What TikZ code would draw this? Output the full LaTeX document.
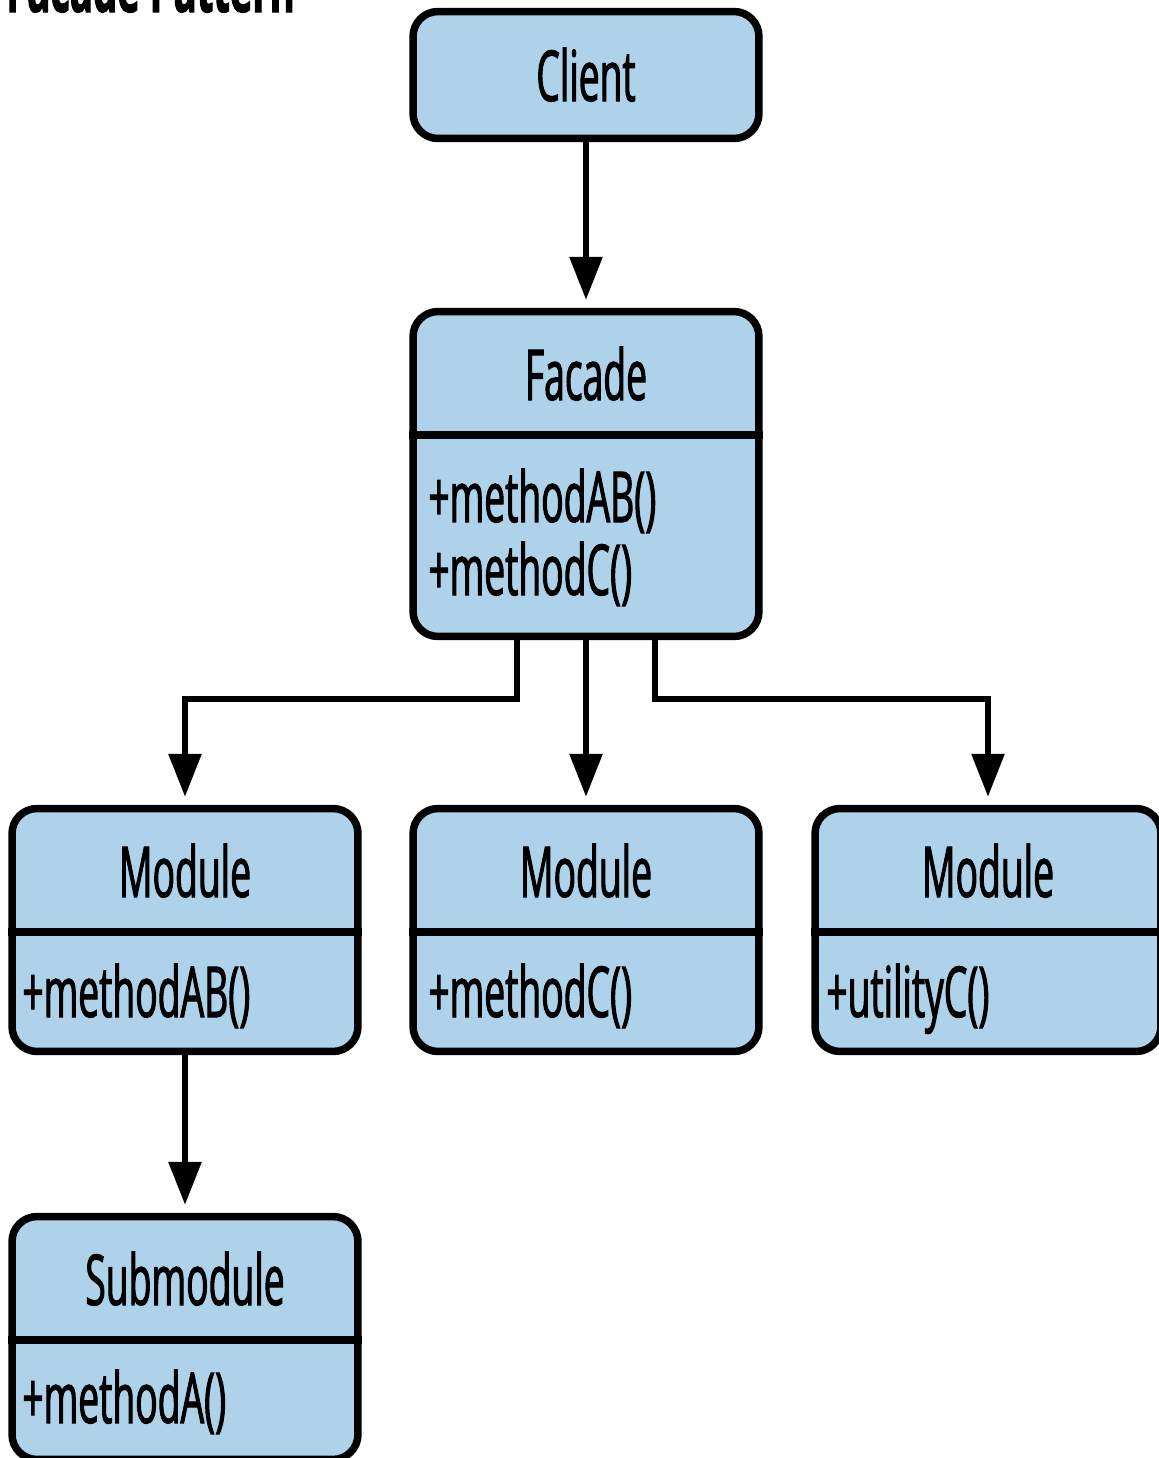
\documentclass[tikz,border=0pt]{standalone}
\usepackage{fontspec}
\setmainfont{Open Sans}[FakeStretch=0.53,FakeBold=1.4]
\usetikzlibrary{arrows.meta}
\definecolor{boxblue}{RGB}{174,210,233}
\tikzset{
  umlbox/.style={draw, fill=boxblue, line width=0.15cm, rounded corners=0.5cm, minimum width=6.92cm, inner sep=0pt},
  divider/.style={line width=0.15cm},
  conn/.style={line width=0.12cm, -{Triangle[length=0.86cm,width=0.64cm]}, shorten >=0.16cm},
  boxtitle/.style={font=\fontsize{40}{41}\selectfont, inner sep=0pt, anchor=base},
  boxops/.style={boxtitle, anchor=base west}
}
\begin{document}
\begin{tikzpicture}[x=0.02cm,y=-0.02cm]
\useasboundingbox (0,0) rectangle (1159,1458);
% heading, cut off by the page top
\node[anchor=base west, font=\fontsize{41}{42}\selectfont\bfseries, inner sep=0pt] (heading) at (6,12) {Facade Pattern};

% class boxes
\node[umlbox, minimum height=2.54cm] (client) at (586,75) {};
\node[umlbox, minimum height=6.5cm] (facade) at (586,474) {};
\node[umlbox, minimum height=4.86cm] (moda) at (185,930) {};
\node[umlbox, minimum height=4.86cm] (modb) at (586,930) {};
\node[umlbox, minimum height=4.86cm] (modc) at (988,930) {};
\node[umlbox, minimum height=4.86cm] (submod) at (185,1338) {};

\draw[divider] (facade.west |- 0,435) -- (facade.east |- 0,435);
\draw[divider] (moda.west |- 0,932) -- (moda.east |- 0,932);
\draw[divider] (modb.west |- 0,932) -- (modb.east |- 0,932);
\draw[divider] (modc.west |- 0,932) -- (modc.east |- 0,932);
\draw[divider] (submod.west |- 0,1340) -- (submod.east |- 0,1340);

% texts
\node[boxtitle] (clientname) at (586,101) {Client};
\node[boxtitle] (facadename) at (586,400) {Facade};
\node[boxops] (facadeopab) at (428,522) {+methodAB()};
\node[boxops] (facadeopc) at (428,595) {+methodC()};
\node[boxtitle] (modaname) at (185,897) {Module};
\node[boxops] (modaops) at (22,1017) {+methodAB()};
\node[boxtitle] (modbname) at (586,897) {Module};
\node[boxops] (modbops) at (428,1017) {+methodC()};
\node[boxtitle] (modcname) at (988,897) {Module};
\node[boxops] (modcops) at (826,1017) {+utilityC()};
\node[boxtitle] (submodname) at (185,1305) {Submodule};
\node[boxops] (submodops) at (22,1423) {+methodA()};

% connectors
\draw[conn] (client) -- (facade);
\draw[conn] ([xshift=-1.38cm]facade.south) -- ++(0,59) -| (moda.north);
\draw[conn] (facade) -- (modb);
\draw[conn] ([xshift=1.38cm]facade.south) -- ++(0,59) -| (modc.north);
\draw[conn] (moda) -- (submod);
\end{tikzpicture}
\end{document}
